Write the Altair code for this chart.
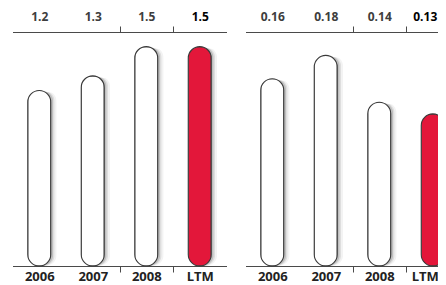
import json
import altair as alt
import pandas as pd

cats = ["2006", "2007", "2008", "LTM"]
left_vals = [1.2, 1.3, 1.5, 1.5]
left_labels = ["1.2", "1.3", "1.5", "1.5"]
right_vals = [0.16, 0.18, 0.14, 0.13]
right_labels = ["0.16", "0.18", "0.14", "0.13"]
highlight = "LTM"

RED = "#e3173a"
LINE = "#4a4a4a"
FONT = "Open Sans"

W, H = 430, 277
Y_TOP, Y_BOT = 24, 258


def panel(vals, labels, ymax, x0, edge_shift=0):
    df = pd.DataFrame({"cat": cats, "v": vals, "lab": labels})
    mapping = json.dumps(dict(zip(cats, labels)))
    tick_op = {"condition": {"test": "datum.index > 0.01 && datum.index < 0.99", "value": 1}, "value": 0}
    label_off = {"condition": {"test": f"datum.value === '{highlight}'", "value": edge_shift}, "value": 0}
    common_axis = dict(
        title=None, labelAngle=0, labelFont=FONT, labelFontWeight="bold",
        tickBand="extent", tickSize=6, tickColor=LINE, tickWidth=1,
        domainColor=LINE, domainWidth=1.2, tickOpacity=tick_op, labelOffset=label_off,
    )
    x_scale = alt.Scale(domain=cats, paddingInner=0, paddingOuter=0, range=[x0, x0 + 214])
    y_scale = alt.Scale(domain=[0, ymax], nice=False, zero=True, range=[Y_BOT, Y_TOP])

    bottom_axis = alt.Axis(orient="bottom", offset=Y_BOT - H, labelFontSize=13, labelColor="#222",
                           labelPadding=-1.5, labelBaseline="top", **common_axis)
    top_axis = alt.Axis(orient="top", offset=-Y_TOP, labelFontSize=12,
                        labelColor={"condition": {"test": f"datum.value === '{highlight}'", "value": "#000"},
                                    "value": "#3d3d3d"},
                        labelExpr=f"{mapping}[datum.value]", labelPadding=3, **common_axis)

    base = alt.Chart(df)
    shadows = []
    for i, (dx, dy, op) in enumerate([(6, 2, 0.06), (4, 1.5, 0.11), (2.5, 1, 0.18)]):
        shadows.append(
            base.mark_bar(size=23, cornerRadius=11.5, color="#333", opacity=op,
                          xOffset=dx, yOffset=dy).encode(
                x=alt.X("cat:N", sort=cats, scale=x_scale, axis=top_axis if i == 0 else None),
                y=alt.Y("v:Q", scale=y_scale, axis=None),
            )
        )
    bars = base.mark_bar(size=23, cornerRadius=11.5, stroke="#3a3a3a", strokeWidth=1.1).encode(
        x=alt.X("cat:N", sort=cats, scale=x_scale, axis=bottom_axis),
        y=alt.Y("v:Q", scale=y_scale, axis=None),
        fill=alt.condition(f"datum.cat === '{highlight}'", alt.value(RED), alt.value("white")),
    )
    return alt.layer(*shadows, bars)


chart = alt.layer(
    panel(left_vals, left_labels, 1.6, 4.5),
    panel(right_vals, right_labels, 0.2, 237.5, edge_shift=-8),
).resolve_scale(x="independent", y="independent").resolve_axis(
    x="independent", y="independent"
).properties(
    width=W, height=H,
    autosize=alt.AutoSizeParams(type="none"),
    padding=0,
    background="white",
).configure_view(stroke=None)

chart.save("out.html", embed_options={"renderer": "svg", "actions": False})
